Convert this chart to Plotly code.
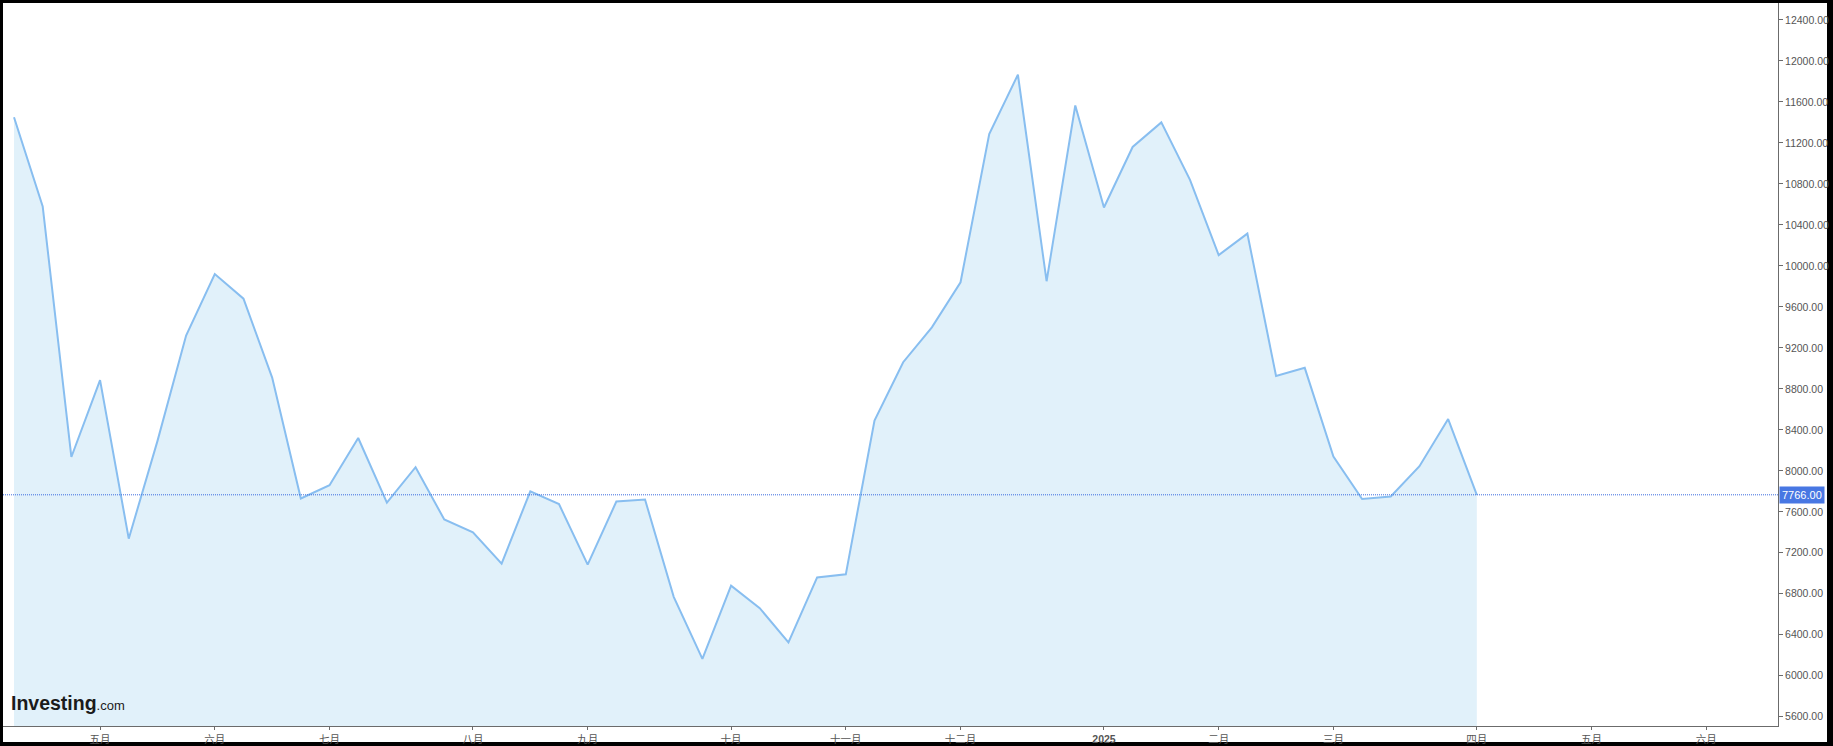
import pandas as pd
import plotly.graph_objects as go

# ---- data (weekly, Monday-dated) ----
start_week = "2024-04-15"
values = [
    11450, 10580, 8135, 8885, 7338, 8290, 9320, 9920, 9680, 8910,
    7730, 7860, 8320, 7690, 8035, 7525, 7400, 7095, 7800, 7675,
    7085, 7700, 7720, 6770, 6165, 6880, 6660, 6325, 6960, 6990,
    8490, 9060, 9400, 9840, 11285, 11865, 9850, 11565, 10570, 11160,
    11400, 10840, 10105, 10315, 8925, 9005, 8140, 7725, 7750, 8045,
    8505, 7766,
]
last_value = 7766
month_labels = ["五月", "六月", "七月", "八月", "九月", "十月", "十一月", "十二月",
                "<b>2025</b>", "二月", "三月", "四月", "五月", "六月"]
y_ticks = [5600, 6000, 6400, 6800, 7200, 7600, 8000, 8400, 8800, 9200, 9600,
           10000, 10400, 10800, 11200, 11600, 12000, 12400]

# weekly slots (data + empty future slots shown on the axis)
weeks = pd.date_range(start_week, periods=62, freq="7D")
x_idx = list(range(len(values)))

# first week of each month -> tick positions
tick_pos = []
seen = set()
for i, d in enumerate(weeks):
    key = (d.year, d.month)
    if key not in seen:
        seen.add(key)
        if i > 0:
            tick_pos.append(i)
tick_pos = tick_pos[:len(month_labels)]

W, H = 1833, 746
ml, mr, mt, mb = 3, 55, 3, 20
pw, ph = W - ml - mr, H - mt - mb


def px(xp):
    return (xp - ml) / pw


def py(yp):
    return (H - mb - yp) / ph


fig = go.Figure()
fig.add_trace(go.Scatter(
    x=x_idx, y=values, mode="lines",
    line=dict(color="#88bef0", width=2),
    fill="tozeroy", fillcolor="#e1f1fa",
    hoverinfo="skip", showlegend=False,
))

# white chart card over black frame
fig.add_shape(type="rect", xref="paper", yref="paper",
              x0=0, x1=px(1827), y0=py(742), y1=1,
              fillcolor="white", line=dict(width=0), layer="below")

# current value dotted line
fig.add_shape(type="line", xref="paper", yref="y", x0=0, x1=1,
              y0=last_value, y1=last_value,
              line=dict(color="#3d6de0", width=1, dash="1px,1px"), layer="above")

fig.add_annotation(xref="paper", yref="y", x=1, y=last_value,
                   xanchor="left", yanchor="middle", xshift=1,
                   text=f"{last_value:.2f}", showarrow=False,
                   bgcolor="#4877e3", borderpad=2,
                   font=dict(color="white", size=11, family="Liberation Sans"))

# logo
fig.add_annotation(xref="paper", yref="paper", x=px(9), y=py(703),
                   xanchor="left", yanchor="middle", showarrow=False,
                   text="<b>Investing</b><span style='font-size:13px'>.com</span>",
                   font=dict(color="#1b1b1b", size=19.5, family="Liberation Sans"))

fig.update_layout(
    width=W, height=H,
    margin=dict(l=ml, r=mr, t=mt, b=mb, pad=0, autoexpand=False),
    paper_bgcolor="black", plot_bgcolor="white",
    xaxis=dict(range=[-0.384, 61.5], tickmode="array", tickvals=tick_pos,
               ticktext=month_labels, showgrid=False, zeroline=False,
               showline=True, linecolor="#6b6b6b", linewidth=1,
               ticks="outside", ticklen=3, tickcolor="#6b6b6b",
               tickangle=0, automargin=False,
               tickfont=dict(size=10.5, color="#555555",
                             family="Liberation Sans, Noto Sans CJK SC")),
    yaxis=dict(range=[5510, 12565], side="right", tickmode="array",
               tickvals=y_ticks, ticktext=[f"{v:.2f}" for v in y_ticks],
               showgrid=False, zeroline=False, showline=True,
               linecolor="#6b6b6b", linewidth=1, ticks="outside",
               ticklen=4, tickcolor="#6b6b6b", automargin=False,
               tickfont=dict(size=10.5, color="#555555", family="Liberation Sans")),
)

fig.write_html("out.html", config={"displayModeBar": False},
               post_script="document.body.style.margin='0';document.body.style.overflow='hidden';")
